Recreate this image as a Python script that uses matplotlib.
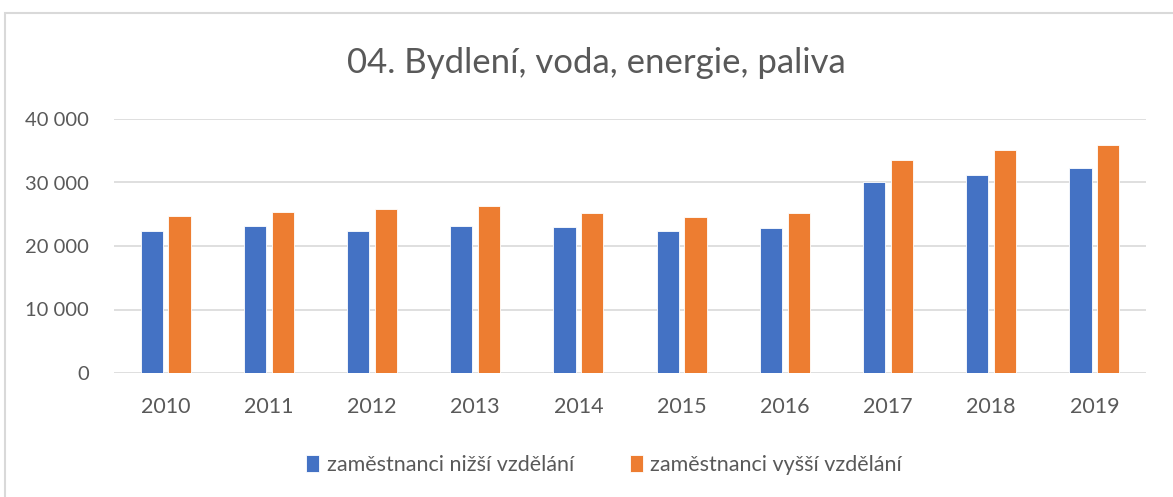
import matplotlib
matplotlib.use("Agg")
import matplotlib.pyplot as plt
from matplotlib.patches import Rectangle
from matplotlib.ticker import FuncFormatter
import numpy as np

years = ["2010", "2011", "2012", "2013", "2014", "2015", "2016", "2017", "2018", "2019"]
nizsi = [22300, 23200, 22300, 23200, 23050, 22300, 22800, 30150, 31250, 32350]
vyssi = [24750, 25350, 25850, 26250, 25150, 24550, 25150, 33600, 35150, 35850]
series_names = ["zaměstnanci nižší vzdělání", "zaměstnanci vyšší vzdělání"]
title = "04. Bydlení, voda, energie, paliva"

W, H = 1173, 497
fig = plt.figure(figsize=(W / 100, H / 100), dpi=100)
plt.rcParams['font.family'] = ['Lato', 'DejaVu Sans']

# outer chart frame
fig.patches.append(Rectangle((5 / W, -0.1), 1.2, 1 - 13 / H + 0.1,
                             transform=fig.transFigure, fill=False,
                             edgecolor="#d9d9d9", lw=1.5))

left, right, top, bottom = 114, 1146, 119, 373
ax = fig.add_axes([left / W, 1 - bottom / H, (right - left) / W, (bottom - top) / H])

x = np.arange(len(years))
bw = 0.214
off = 0.135
blue = "#4472c4"
orange = "#ed7d31"
ax.bar(x - off, nizsi, bw, color=blue, edgecolor="white", linewidth=0.6, label=series_names[0], zorder=3)
ax.bar(x + off, vyssi, bw, color=orange, edgecolor="white", linewidth=0.6, label=series_names[1], zorder=3)

ax.set_xlim(-0.5, len(years) - 0.5)
ax.set_ylim(0, 40000)
ax.set_yticks([0, 10000, 20000, 30000, 40000])
ax.yaxis.set_major_formatter(FuncFormatter(lambda v, p: f"{int(v):,}".replace(",", " ")))
ax.set_xticks(x)
ax.set_xticklabels(years)
ax.grid(axis="y", color="#d9d9d9", lw=1.2, zorder=0)
for s in ax.spines.values():
    s.set_visible(False)
ax.tick_params(axis="y", length=0, labelsize=14.5, colors="#595959", pad=18)
ax.tick_params(axis="x", length=0, labelsize=15.5, colors="#595959", pad=17)

fig.text(596 / W, 1 - 63 / H, title, ha="center", va="center", fontsize=25, color="#595959")

leg = fig.legend(loc="center", bbox_to_anchor=(0.515, 1 - 465 / H), ncol=2, frameon=False,
                 fontsize=15.5, handlelength=0.6, handleheight=0.8, handletextpad=0.35,
                 columnspacing=2.6, labelcolor="#595959")

fig.savefig("out.png", dpi=100)
